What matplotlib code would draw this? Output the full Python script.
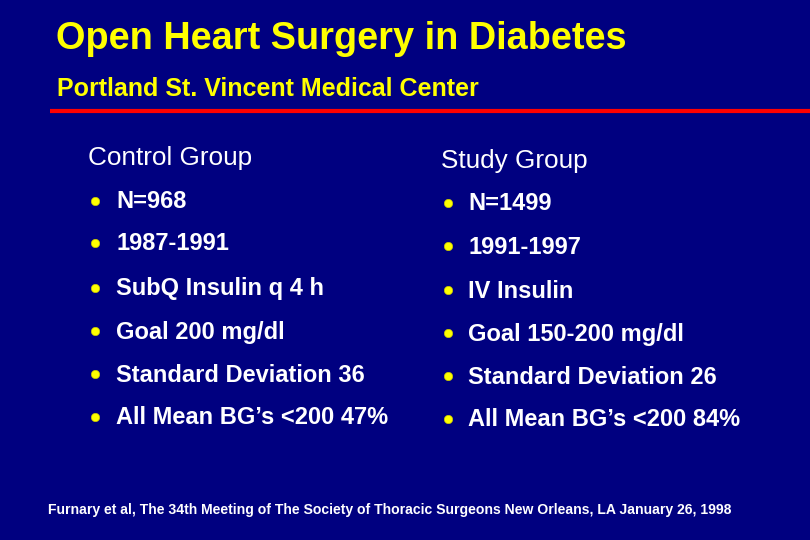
import matplotlib
matplotlib.use("Agg")
import matplotlib.pyplot as plt

# slide content
title = "Open Heart Surgery in Diabetes"
subtitle = "Portland St. Vincent Medical Center"
left_heading = "Control Group"
right_heading = "Study Group"
left_items = ["N=968", "1987-1991", "SubQ Insulin q 4 h", "Goal 200 mg/dl",
              "Standard Deviation 36", "All Mean BG\u2019s <200 47%"]
right_items = ["N=1499", "1991-1997", "IV Insulin", "Goal 150-200 mg/dl",
               "Standard Deviation 26", "All Mean BG\u2019s <200 84%"]
footnote = ("Furnary et al, The 34th Meeting of The Society of Thoracic Surgeons "
            "New Orleans, LA January 26, 1998")

# layout (pixel coordinates, y down)
left_base = [208.5, 250.5, 295.5, 338.5, 381.5, 424.5]
right_base = [210.5, 253.5, 297.5, 340.5, 383.5, 426.5]

navy = "#000080"
yellow = "#FFFF00"
font = "Liberation Sans"

fig = plt.figure(figsize=(8.1, 5.4), dpi=100, facecolor=navy)
ax = fig.add_axes([0, 0, 1, 1])
ax.set_facecolor(navy)
ax.set_xlim(0, 810)
ax.set_ylim(540, 0)
ax.axis("off")

ax.text(56, 49, title, color=yellow, fontsize=27.3, fontweight="bold",
        family=font, va="baseline")
ax.text(57, 96, subtitle, color=yellow, fontsize=18, fontweight="bold",
        family=font, va="baseline")
ax.plot([50, 810], [111, 111], color="#FF0000", lw=3, solid_capstyle="butt")

ax.text(88, 165, left_heading, color="white", fontsize=18.8, family=font, va="baseline")
ax.text(441, 168, right_heading, color="white", fontsize=18.8, family=font, va="baseline")

for items, bases, dot_x, text_x in [(left_items, left_base, 95, 116),
                                    (right_items, right_base, 448, 468)]:
    for item, yb in zip(items, bases):
        ax.plot(dot_x, yb - 7.5, "o", color=yellow, ms=6.0, mec="#C8C800", mew=0.5)
        ax.text(text_x, yb, item, color="white", fontsize=17, fontweight="bold",
                family=font, va="baseline")

ax.text(48, 514, footnote, color="white", fontsize=10.05, fontweight="bold",
        family=font, va="baseline")

fig.savefig("out.png", dpi=100, facecolor=navy)
